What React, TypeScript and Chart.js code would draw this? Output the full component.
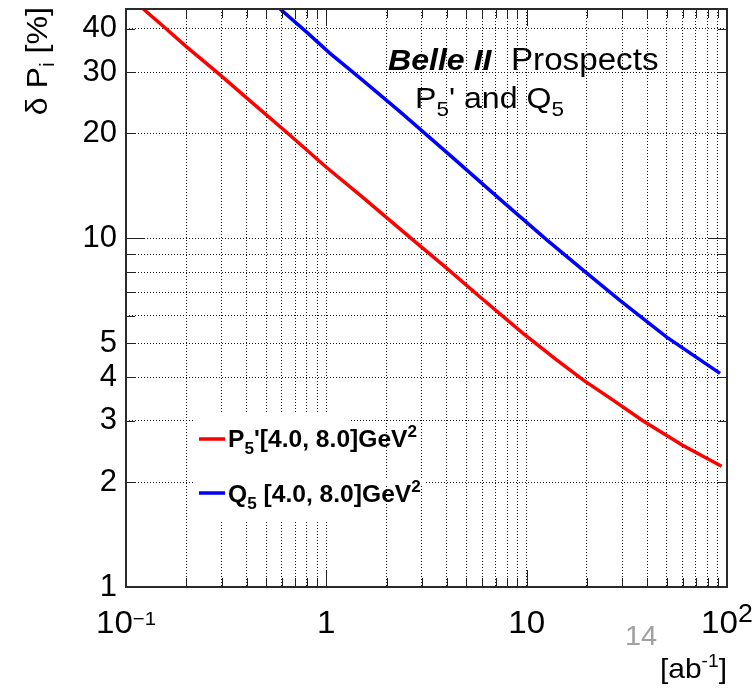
import React, { useEffect, useRef } from 'react';
import { Chart, registerables } from 'chart.js';

Chart.register(...registerables);

// ---- data ----
const lumiP5 = [0.122, 0.158, 0.2, 0.294, 0.4, 0.65, 1, 1.5, 2.65, 4, 5.85, 9.63, 14, 19.2, 27.1, 38, 60, 94];
const deltaP5 = [45.5, 40, 35.5, 29.5, 25.3, 19.9, 16, 13.2, 10, 8.2, 6.79, 5.33, 4.5, 3.92, 3.43, 3.0, 2.55, 2.22];
const lumiQ5 = [0.588, 0.8, 1.04, 1.5, 2.33, 4.15, 7.3, 12.6, 19.2, 29.2, 50, 92.3];
const deltaQ5 = [45.5, 39.0, 34.0, 28.6, 23.1, 17.3, 13.0, 9.9, 8.1, 6.64, 5.21, 4.1];

const xGridValues = [0.2, 0.3, 0.4, 0.5, 0.6, 0.7, 0.8, 0.9, 1, 2, 3, 4, 5, 6, 7, 8, 9, 10, 20, 30, 40, 50, 60, 70, 80, 90];
const xMajorValues = [1, 10];
const yGridValues = [2, 3, 4, 5, 6, 7, 8, 9, 10, 20, 30, 40];
const yMajorValues = [10];
const yLabelValues = [1, 2, 3, 4, 5, 10, 20, 30, 40];
const xTickLabels = [
  { value: 0.1, base: '10', exp: '\u22121' },
  { value: 1, base: '1', exp: '' },
  { value: 10, base: '10', exp: '' },
  { value: 100, base: '10', exp: '2' },
];
const seriesNames = ["P5'[4.0, 8.0]GeV2", 'Q5 [4.0, 8.0]GeV2'];
const X_MIN = 0.1;
const X_MAX = 100;
const Y_MIN = 1;
const Y_MAX = 45.5;

const FONT = '"Liberation Sans", Arial, Helvetica, sans-serif';
const SX = 1.07;

type Part = { t: string; font: string; dy?: number };

function drawRich(ctx: CanvasRenderingContext2D, x: number, y: number, parts: Part[], align: 'left' | 'center' | 'right' = 'left', color = '#000') {
  ctx.save();
  ctx.translate(x, y);
  ctx.scale(SX, 1);
  ctx.fillStyle = color;
  ctx.textBaseline = 'alphabetic';
  ctx.textAlign = 'left';
  let total = 0;
  const ws = parts.map((p) => {
    ctx.font = p.font;
    const w = ctx.measureText(p.t).width;
    total += w;
    return w;
  });
  let cx = align === 'center' ? -total / 2 : align === 'right' ? -total : 0;
  parts.forEach((p, i) => {
    ctx.font = p.font;
    ctx.fillText(p.t, cx, p.dy || 0);
    cx += ws[i];
  });
  ctx.restore();
}

const decorPlugin = {
  id: 'decor',
  beforeDatasetsDraw(chart: any) {
    const ctx: CanvasRenderingContext2D = chart.ctx;
    ctx.save();
    ctx.fillStyle = '#fff';
    // legend area hides the grid behind it
    ctx.fillRect(193, 412, 157, 108);
    ctx.fillRect(350, 478, 75, 7);
    ctx.restore();
  },
  afterDatasetsDraw(chart: any) {
    const ctx: CanvasRenderingContext2D = chart.ctx;
    const { left, right, top, bottom } = chart.chartArea;
    const xs = chart.scales.x;
    const ys = chart.scales.y;
    ctx.save();
    // ticks inside frame
    ctx.strokeStyle = '#222';
    ctx.lineWidth = 1;
    ctx.beginPath();
    xGridValues.forEach((v) => {
      const px = Math.round(xs.getPixelForValue(v)) + 0.5;
      const len = xMajorValues.includes(v) ? 17 : 9;
      ctx.moveTo(px, bottom);
      ctx.lineTo(px, bottom - len);
      ctx.moveTo(px, top);
      ctx.lineTo(px, top + len);
    });
    yGridValues.forEach((v) => {
      const py = Math.round(ys.getPixelForValue(v)) + 0.5;
      const len = yMajorValues.includes(v) ? 19 : 9;
      ctx.moveTo(left, py);
      ctx.lineTo(left + len, py);
      ctx.moveTo(right, py);
      ctx.lineTo(right - len, py);
    });
    ctx.stroke();
    // frame
    ctx.strokeStyle = '#2a2a2a';
    ctx.lineWidth = 2;
    ctx.strokeRect(left, top, right - left, bottom - top);

    // legend
    const colors = ['#ff0000', '#0000ff'];
    const rowsY = [439, 493];
    ctx.lineWidth = 3.5;
    rowsY.forEach((ry, i) => {
      ctx.strokeStyle = colors[i];
      ctx.beginPath();
      ctx.moveTo(199, ry);
      ctx.lineTo(225, ry);
      ctx.stroke();
    });
    const bf = (s: number) => `bold ${s}px ${FONT}`;
    drawRich(ctx, 228, 447, [
      { t: 'P', font: bf(23) },
      { t: '5', font: bf(16), dy: 7 },
      { t: "'[4.0, 8.0]GeV", font: bf(23) },
      { t: '2', font: bf(16), dy: -10 },
    ]);
    drawRich(ctx, 228, 502, [
      { t: 'Q', font: bf(23) },
      { t: '5', font: bf(16), dy: 7 },
      { t: ' [4.0, 8.0]GeV', font: bf(23) },
      { t: '2', font: bf(16), dy: -10 },
    ]);

    // title
    drawRich(ctx, 388, 70, [{ t: 'Belle II', font: `italic bold 30px ${FONT}` }]);
    drawRich(ctx, 511, 70, [{ t: 'Prospects', font: `31px ${FONT}` }]);
    drawRich(ctx, 415, 108, [
      { t: 'P', font: `30px ${FONT}` },
      { t: '5', font: `21px ${FONT}`, dy: 8 },
      { t: "' and Q", font: `30px ${FONT}` },
      { t: '5', font: `21px ${FONT}`, dy: 8 },
    ]);
    ctx.restore();
  },
  afterDraw(chart: any) {
    const ctx: CanvasRenderingContext2D = chart.ctx;
    const xs = chart.scales.x;
    ctx.save();
    // x tick labels
    xTickLabels.forEach((lb) => {
      const px = xs.getPixelForValue(lb.value);
      const parts: Part[] = [{ t: lb.base, font: `31px ${FONT}` }];
      if (lb.exp === '2') parts.push({ t: lb.exp, font: `25px ${FONT}`, dy: -11 });
      else if (lb.exp) parts.push({ t: lb.exp, font: `19px ${FONT}`, dy: -8 });
      drawRich(ctx, px, 633, parts, 'center');
    });
    // x title
    drawRich(ctx, chart.chartArea.right, 678, [
      { t: '[ab', font: `28px ${FONT}` },
      { t: '-1', font: `18px ${FONT}`, dy: -11 },
      { t: ']', font: `28px ${FONT}` },
    ], 'right');
    // page number
    drawRich(ctx, 625, 645, [{ t: '14', font: `27px ${FONT}` }], 'left', '#a0a0a0');
    // y title (rotated)
    ctx.save();
    ctx.translate(47, 7);
    ctx.rotate(-Math.PI / 2);
    drawRich(ctx, 0, 0, [
      { t: '\u03b4 P', font: `30px ${FONT}` },
      { t: 'i', font: `20px ${FONT}`, dy: 7 },
      { t: ' [%]', font: `30px ${FONT}` },
    ], 'right');
    ctx.restore();
    ctx.restore();
  },
};

export default function App() {
  const ref = useRef<HTMLCanvasElement | null>(null);
  useEffect(() => {
    if (!ref.current) return;
    const gridColor = 'rgba(0,0,0,0.9)';
    const chart = new Chart(ref.current, {
      type: 'line',
      data: {
        datasets: [
          {
            label: seriesNames[0],
            data: lumiP5.map((x, i) => ({ x, y: deltaP5[i] })),
            borderColor: '#ff0000',
            borderWidth: 3.5,
            pointRadius: 0,
            tension: 0,
          },
          {
            label: seriesNames[1],
            data: lumiQ5.map((x, i) => ({ x, y: deltaQ5[i] })),
            borderColor: '#0000ff',
            borderWidth: 3.5,
            pointRadius: 0,
            tension: 0,
          },
        ],
      },
      options: {
        responsive: false,
        animation: false,
        devicePixelRatio: 1,
        layout: { padding: { top: 9, right: 25, left: 0, bottom: 0 } },
        plugins: { legend: { display: false }, tooltip: { enabled: false } },
        scales: {
          x: {
            type: 'logarithmic',
            bounds: 'data',
            min: X_MIN,
            max: X_MAX,
            afterBuildTicks: (s: any) => {
              s.ticks = xGridValues.map((v) => ({ value: v }));
              s.min = X_MIN;
              s.max = X_MAX;
            },
            afterFit: (s: any) => {
              s.height = 101;
              s.paddingLeft = 0;
              s.paddingRight = 0;
              s.paddingTop = 0;
              s.paddingBottom = 0;
            },
            ticks: { display: false, autoSkip: false },
            grid: { color: gridColor, lineWidth: 1, drawTicks: false, borderDash: [1, 2] },
            border: { display: false, dash: [1, 2] },
          },
          y: {
            type: 'logarithmic',
            bounds: 'data',
            min: Y_MIN,
            max: Y_MAX,
            afterBuildTicks: (s: any) => {
              s.ticks = [Y_MIN, ...yGridValues].map((v) => ({ value: v }));
              s.min = Y_MIN;
              s.max = Y_MAX;
            },
            afterFit: (s: any) => {
              s.width = 126;
              s.paddingTop = 0;
              s.paddingBottom = 0;
              s.paddingLeft = 0;
              s.paddingRight = 0;
            },
            ticks: {
              autoSkip: false,
              padding: 9,
              color: '#000',
              font: { family: FONT, size: 31 },
              callback: (v: any) => (yLabelValues.includes(Number(v)) ? String(v) : ''),
            },
            grid: { color: gridColor, lineWidth: 1, drawTicks: false, borderDash: [1, 2] },
            border: { display: false, dash: [1, 2] },
          },
        },
      } as any,
      plugins: [decorPlugin],
    });
    return () => chart.destroy();
  }, []);
  return (
    <div style={{ position: 'fixed', left: 0, top: 0, width: 752, height: 688, background: '#fff' }}>
      <canvas ref={ref} width={752} height={688} style={{ width: 752, height: 688, display: 'block' }} />
    </div>
  );
}
